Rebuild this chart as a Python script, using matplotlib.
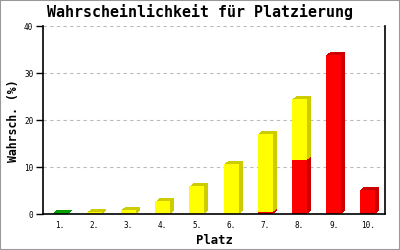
import numpy as np
import matplotlib
matplotlib.use("Agg")
import matplotlib.pyplot as plt
from matplotlib.transforms import ScaledTranslation
from matplotlib.patches import Rectangle

# data
places = ["1.", "2.", "3.", "4.", "5.", "6.", "7.", "8.", "9.", "10."]
red = [0, 0, 0, 0, 0, 0, 0.4, 11.5, 33.9, 5.2]
yellow = [0, 0.4, 0.9, 2.7, 5.9, 10.7, 16.7, 13.0, 0, 0]
green = [0.3, 0, 0, 0, 0, 0, 0, 0, 0, 0]

series = [(red, "#ff0000", "#cc0000"),
          (yellow, "#ffff00", "#cccc00"),
          (green, "#00d000", "#00a000")]

DPI = 100
fig = plt.figure(figsize=(4, 2.5), dpi=DPI)
fig.patches.append(Rectangle((0, 0), 1, 1, transform=fig.transFigure,
                             fill=False, edgecolor="#999999", lw=1.5))
ax = fig.add_axes([0.1075, 0.144, 0.855, 0.751])

mono = "DejaVu Sans Mono"
x = np.arange(len(places))
width = 0.44

# side/top "depth" drawn as stacked offset copies behind the front bars
bottoms = np.zeros(len(places))
fronts = []
for vals, col, dark in series:
    vals = np.array(vals, dtype=float)
    m = vals > 0
    for k in range(1, 5):
        off = ScaledTranslation(k / DPI, 0.75 * k / DPI, fig.dpi_scale_trans)
        ax.bar(x[m], vals[m], width, bottom=bottoms[m], color=dark,
               transform=ax.transData + off, zorder=2, linewidth=0)
    fronts.append((x[m], vals[m], bottoms[m].copy(), col))
    bottoms = bottoms + vals
for xs, vs, bs, col in fronts:
    ax.bar(xs, vs, width, bottom=bs, color=col, zorder=3, linewidth=0)

ax.set_xlim(-0.5, len(places) - 0.5)
ax.set_ylim(0, 40)
ax.set_yticks([0, 10, 20, 30, 40])
ax.set_xticks(x)
ax.set_xticklabels(places)
for t in ax.get_xticklabels() + ax.get_yticklabels():
    t.set_fontfamily(mono)
    t.set_fontsize(5.5)
ax.tick_params(axis="x", length=0, pad=5)
ax.tick_params(axis="y", length=5, width=1, pad=2, direction="out")
ax.grid(axis="y", color="#bbbbbb", linestyle=(0, (3, 3)), linewidth=0.8, zorder=0)
ax.spines["top"].set_visible(False)
for s in ["left", "bottom", "right"]:
    ax.spines[s].set_linewidth(1.2)
    ax.spines[s].set_color("black")
ax.spines["left"].set_zorder(4)
ax.spines["bottom"].set_zorder(4)

fig.text(0.5, 0.95, "Wahrscheinlichkeit für Platzierung", ha="center", va="center",
         family=mono, fontweight="bold", fontsize=10.8)
ax.set_xlabel("Platz", family=mono, fontweight="bold", fontsize=8.8, labelpad=3)
fig.text(0.033, 0.515, "Wahrsch. (%)", rotation=90, ha="center", va="center",
         family=mono, fontweight="bold", fontsize=8.3)

fig.savefig("out.png", dpi=DPI)
